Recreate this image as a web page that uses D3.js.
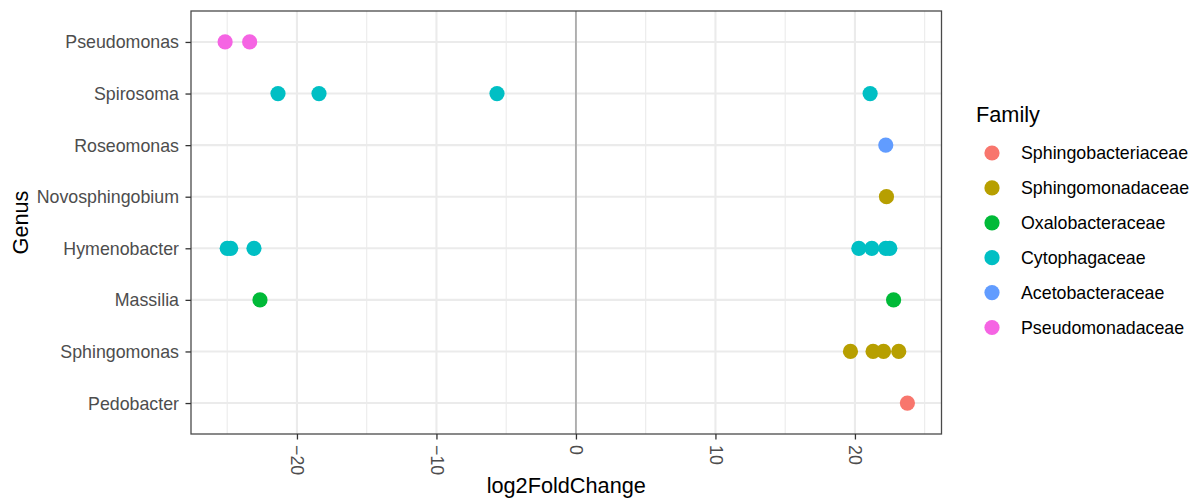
<!DOCTYPE html>
<html>
<head>
<meta charset="utf-8">
<script src="https://cdn.jsdelivr.net/npm/d3@7"></script>
<style>
  html, body { margin: 0; padding: 0; background: #fff; }
  svg { display: block; font-family: "Liberation Sans", Arial, Helvetica, sans-serif; }
</style>
</head>
<body>
<svg id="chart" width="1196" height="502"></svg>
<script>
// Genera, listed from top row to bottom row
const genera = ["Pseudomonas", "Spirosoma", "Roseomonas", "Novosphingobium",
                "Hymenobacter", "Massilia", "Sphingomonas", "Pedobacter"];

// Family that each genus belongs to (same order as genera)
const genusFamily = ["Pseudomonadaceae", "Cytophagaceae", "Acetobacteraceae", "Sphingomonadaceae",
                     "Cytophagaceae", "Oxalobacteraceae", "Sphingomonadaceae", "Sphingobacteriaceae"];

// log2 fold change of each significant ASV, grouped per genus (same order as genera)
const log2FoldChange = [
  [-25.15, -23.39],
  [-21.36, -18.42, -5.66, 21.09],
  [22.21],
  [22.26],
  [-25.0, -24.75, -23.08, 20.28, 21.21, 22.21, 22.5],
  [-22.65, 22.77],
  [19.68, 21.3, 22.05, 23.14],
  [23.76]
];

// Legend order and colours of the families
const families = ["Sphingobacteriaceae", "Sphingomonadaceae", "Oxalobacteraceae",
                  "Cytophagaceae", "Acetobacteraceae", "Pseudomonadaceae"];
const familyColors = ["#F8766D", "#B79F00", "#00BA38", "#00BFC4", "#619CFF", "#F564E3"];

const xMajorTicks = [-20, -10, 0, 10, 20];
const xMinorTicks = [-25, -15, -5, 5, 15, 25];

// Flatten to one record per point
const points = [];
genera.forEach((g, i) => {
  log2FoldChange[i].forEach(v => points.push({ genus: g, family: genusFamily[i], lfc: v }));
});

const svg = d3.select("#chart");
const panel = { left: 191, right: 941.5, top: 11, bottom: 434 };
const tickFont = "17.8px";
const titleFont = "21.7px";

// x scale with 5% expansion on both sides of the data range
const [xmin, xmax] = d3.extent(points, d => d.lfc);
const pad = (xmax - xmin) * 0.05;
const x = d3.scaleLinear().domain([xmin - pad, xmax + pad]).range([panel.left, panel.right]);

const y = d3.scalePoint().domain(genera).range([panel.top, panel.bottom]).padding(0.6);

const color = d3.scaleOrdinal().domain(families).range(familyColors);

// panel background grid
const grid = svg.append("g");
grid.selectAll("line.minor").data(xMinorTicks.filter(t => x(t) > panel.left && x(t) < panel.right))
  .join("line").attr("class", "minor")
  .attr("x1", d => x(d)).attr("x2", d => x(d))
  .attr("y1", panel.top).attr("y2", panel.bottom)
  .attr("stroke", "#EBEBEB").attr("stroke-width", 1.1);
grid.selectAll("line.majx").data(xMajorTicks)
  .join("line").attr("class", "majx")
  .attr("x1", d => x(d)).attr("x2", d => x(d))
  .attr("y1", panel.top).attr("y2", panel.bottom)
  .attr("stroke", "#EBEBEB").attr("stroke-width", 2.1);
grid.selectAll("line.majy").data(genera)
  .join("line").attr("class", "majy")
  .attr("x1", panel.left).attr("x2", panel.right)
  .attr("y1", d => y(d)).attr("y2", d => y(d))
  .attr("stroke", "#EBEBEB").attr("stroke-width", 2.1);

// reference line at zero change
svg.append("line")
  .attr("x1", x(0)).attr("x2", x(0))
  .attr("y1", panel.top).attr("y2", panel.bottom)
  .attr("stroke", "#A8A8A8").attr("stroke-width", 1.7);

// points
svg.append("g").selectAll("circle").data(points).join("circle")
  .attr("cx", d => x(d.lfc))
  .attr("cy", d => y(d.genus))
  .attr("r", 7.6)
  .attr("fill", d => color(d.family));

// panel border
svg.append("rect")
  .attr("x", panel.left).attr("y", panel.top)
  .attr("width", panel.right - panel.left).attr("height", panel.bottom - panel.top)
  .attr("fill", "none").attr("stroke", "#4a4a4a").attr("stroke-width", 1.3);

// x axis
const xAxis = svg.append("g")
  .attr("transform", `translate(0,${panel.bottom})`)
  .call(d3.axisBottom(x).tickValues(xMajorTicks).tickSize(5.5).tickFormat(d3.format("d")));
xAxis.select(".domain").remove();
xAxis.selectAll(".tick line").attr("stroke", "#333").attr("stroke-width", 1.3);
xAxis.selectAll(".tick text")
  .attr("fill", "#4D4D4D").attr("font-size", tickFont)
  .attr("font-family", "Liberation Sans, Arial, sans-serif")
  .attr("dy", null).attr("y", 0)
  .attr("text-anchor", "start")
  .attr("dominant-baseline", "central")
  .attr("transform", "translate(0,11) rotate(90)");

// y axis
const yAxis = svg.append("g")
  .attr("transform", `translate(${panel.left},0)`)
  .call(d3.axisLeft(y).tickSize(5.5));
yAxis.select(".domain").remove();
yAxis.selectAll(".tick line").attr("stroke", "#333").attr("stroke-width", 1.3);
yAxis.selectAll(".tick text")
  .attr("fill", "#4D4D4D").attr("font-size", tickFont)
  .attr("font-family", "Liberation Sans, Arial, sans-serif")
  .attr("x", -12).attr("dy", null)
  .attr("dominant-baseline", "central");

// axis titles
svg.append("text")
  .attr("x", (panel.left + panel.right) / 2).attr("y", 493)
  .attr("text-anchor", "middle").attr("font-size", titleFont).attr("fill", "#000")
  .text("log2FoldChange");
svg.append("text")
  .attr("transform", `translate(28,${(panel.top + panel.bottom) / 2}) rotate(-90)`)
  .attr("text-anchor", "middle").attr("font-size", titleFont).attr("fill", "#000")
  .text("Genus");

// legend
const legend = svg.append("g");
legend.append("text")
  .attr("x", 976).attr("y", 122)
  .attr("font-size", titleFont).attr("fill", "#000")
  .text("Family");
const items = legend.selectAll("g.item").data(families).join("g")
  .attr("class", "item")
  .attr("transform", (d, i) => `translate(992,${153 + i * 34.9})`);
items.append("circle").attr("r", 7.6).attr("fill", d => color(d));
items.append("text")
  .attr("x", 29).attr("y", 0)
  .attr("dominant-baseline", "central")
  .attr("font-size", tickFont).attr("fill", "#000")
  .text(d => d);
</script>
</body>
</html>
